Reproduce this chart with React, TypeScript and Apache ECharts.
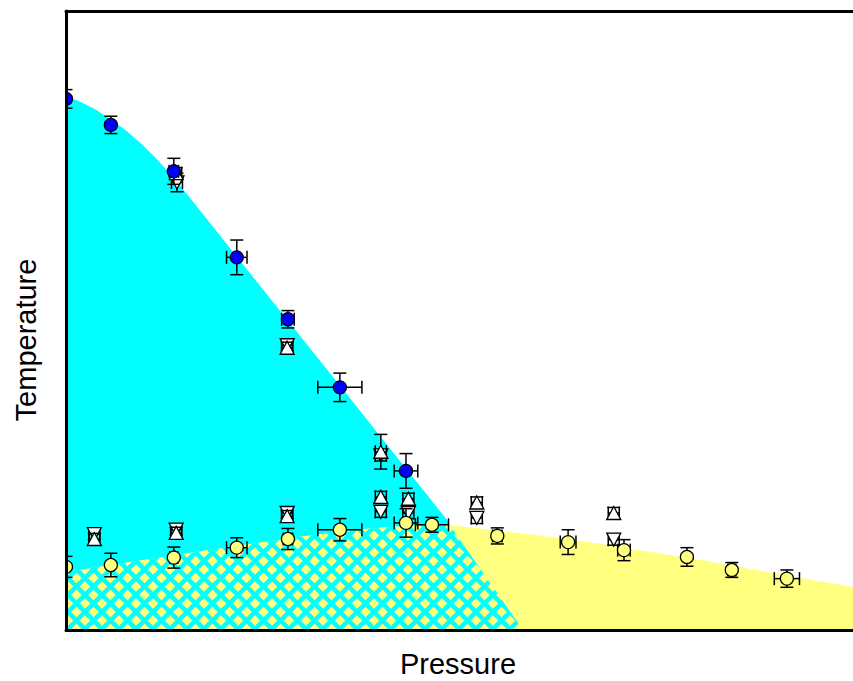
import React, { useEffect, useRef } from "react";
import * as echarts from "echarts";

// Phase-region boundaries (x: pressure 0-100, y: temperature 0-100)
const cyanX = [0, 1.91, 3.81, 5.72, 7.62, 9.53, 11.44, 13.34, 14.87, 19.19, 23.38, 27.57, 31.89, 36.09, 40.28, 44.6, 48.41, 49.17, 58.07];
const cyanY = [86.25, 85.28, 84.03, 82.49, 80.68, 78.58, 76.2, 73.53, 71.2, 64.32, 57.65, 50.97, 44.09, 37.42, 30.74, 23.87, 17.8, 16.18, 0];
const yelX = [0, 10.67, 20.84, 29.73, 38.25, 43.71, 48.79, 55.15, 61.5, 67.85, 74.21, 80.56, 86.91, 93.27, 100];
const yelY = [9.39, 11.49, 13.43, 15.05, 16.34, 16.83, 16.91, 16.02, 15.05, 13.92, 12.62, 11.33, 9.87, 8.41, 6.96];

// Blue circles
const blueX = [0, 5.7, 13.7, 21.7, 28.2, 34.8, 43.2];
const blueY = [85.8, 81.6, 74.1, 60.2, 50.2, 39.2, 25.7];
const blueEx = [0, 0, 0.6, 1.3, 0.8, 2.8, 1.5];
const blueEy = [1.5, 1.4, 2.1, 2.8, 1.4, 2.3, 2.8];

// Yellow circles
const yellowX = [0, 5.7, 13.7, 21.7, 28.2, 34.8, 43.2, 46.5, 54.8, 63.8, 70.9, 78.9, 84.6, 91.6];
const yellowY = [10.2, 10.5, 11.7, 13.3, 14.7, 16.2, 17.3, 17.0, 15.2, 14.2, 12.9, 11.8, 9.7, 8.3];
const yellowEx = [0, 0, 0.5, 1.3, 0.6, 2.8, 1.5, 2.1, 0.6, 1.0, 0.8, 0, 0.5, 1.6];
const yellowEy = [1.7, 1.9, 1.7, 1.6, 1.7, 1.8, 2.3, 1.2, 1.3, 2.0, 1.7, 1.5, 1.2, 1.4];

// Up triangles
const upX = [3.6, 14.0, 14.0, 28.1, 28.1, 40.0, 40.0, 43.5, 52.2, 69.6];
const upY = [14.7, 73.8, 15.7, 45.6, 18.4, 28.8, 21.5, 21.2, 20.6, 18.9];
const upEx = [0.7, 0.7, 0.7, 0.7, 0.7, 0.7, 0.7, 0.7, 0.7, 0.7];
const upEy = [0.9, 0.9, 0.9, 0.9, 0.9, 2.8, 0.9, 0.9, 0.9, 0.9];

// Down triangles
const downX = [3.6, 14.1, 14.0, 28.1, 28.1, 40.0, 40.0, 43.5, 52.2, 69.6];
const downY = [15.5, 72.3, 16.2, 46.0, 18.9, 28.2, 19.1, 18.9, 18.1, 14.6];
const downEx = [0.7, 0.7, 0.7, 0.7, 0.7, 0.7, 0.7, 0.7, 0.7, 0.7];
const downEy = [0.9, 1.5, 0.9, 0.9, 0.9, 0.9, 0.9, 0.9, 0.9, 0.9];

const CYAN = "#00ffff";
const YELLOW = "#ffff80";
const BLUE = "#0000ff";

function zip(xs: number[], ys: number[]) {
  return xs.map((x, i) => [x, ys[i]]);
}
function zip4(xs: number[], ys: number[], ex: number[], ey: number[]) {
  return xs.map((x, i) => [x, ys[i], ex[i], ey[i]]);
}

function makeHatch() {
  const s = 17;
  const c = document.createElement("canvas");
  c.width = s;
  c.height = s;
  const ctx = c.getContext("2d")!;
  ctx.fillStyle = YELLOW;
  ctx.fillRect(0, 0, s, s);
  ctx.strokeStyle = CYAN;
  ctx.lineWidth = 4.5;
  for (let k = -1; k <= 1; k++) {
    ctx.beginPath();
    ctx.moveTo(k * s, 0);
    ctx.lineTo(k * s + s, s);
    ctx.moveTo(k * s + s, 0);
    ctx.lineTo(k * s, s);
    ctx.stroke();
  }
  return { image: c, repeat: "repeat", imageWidth: s, imageHeight: s };
}

function makeRender(kind: string) {
  return (params: any, api: any) => {
    const x = api.value(0);
    const y = api.value(1);
    const ex = api.value(2);
    const ey = api.value(3);
    const c = api.coord([x, y]);
    const cap = 6.5;
    const ls = { stroke: "#000", lineWidth: 1.5 };
    const children: any[] = [];
    if (ey > 0) {
      const t = api.coord([x, y + ey])[1];
      const b = api.coord([x, y - ey])[1];
      children.push({ type: "line", shape: { x1: c[0], y1: t, x2: c[0], y2: b }, style: ls });
      children.push({ type: "line", shape: { x1: c[0] - cap, y1: t, x2: c[0] + cap, y2: t }, style: ls });
      children.push({ type: "line", shape: { x1: c[0] - cap, y1: b, x2: c[0] + cap, y2: b }, style: ls });
    }
    if (ex > 0) {
      const l = api.coord([x - ex, y])[0];
      const r = api.coord([x + ex, y])[0];
      children.push({ type: "line", shape: { x1: l, y1: c[1], x2: r, y2: c[1] }, style: ls });
      children.push({ type: "line", shape: { x1: l, y1: c[1] - cap, x2: l, y2: c[1] + cap }, style: ls });
      children.push({ type: "line", shape: { x1: r, y1: c[1] - cap, x2: r, y2: c[1] + cap }, style: ls });
    }
    const ms = { stroke: "#000", lineWidth: 1.3 };
    if (kind === "blue" || kind === "yellow") {
      children.push({
        type: "circle",
        shape: { cx: c[0], cy: c[1], r: 6.5 },
        style: { ...ms, fill: kind === "blue" ? BLUE : YELLOW },
      });
    } else {
      const w = 7;
      const h = 6.5;
      const pts =
        kind === "up"
          ? [[c[0], c[1] - h], [c[0] + w, c[1] + h], [c[0] - w, c[1] + h]]
          : [[c[0], c[1] + h], [c[0] + w, c[1] - h], [c[0] - w, c[1] - h]];
      children.push({ type: "polygon", shape: { points: pts }, style: { ...ms, fill: "#ffffff" } });
    }
    return { type: "group", children };
  };
}

export default function App() {
  const ref = useRef<HTMLDivElement>(null);
  useEffect(() => {
    document.body.style.margin = "0";
    if (!ref.current) return;
    const chart = echarts.init(ref.current, null, { renderer: "svg" });

    const cyanData = zip(cyanX, cyanY);
    const yelData = zip(yelX, yelY);
    const lastYelX = yelX[6];
    const hatchData = [
      ...yelData.filter((p) => p[0] <= lastYelX),
      ...cyanData.filter((p) => p[0] > lastYelX),
    ];

    const axisCommon = {
      type: "value",
      min: 0,
      max: 100,
      z: 10,
      axisTick: { show: false },
      axisLabel: { show: false },
      splitLine: { show: false },
      axisLine: { show: true, onZero: false, lineStyle: { color: "#000", width: 3 } },
    };

    const area = (name: string, data: number[][], color: any) => ({
      name,
      type: "line",
      data,
      symbol: "none",
      lineStyle: { width: 0 },
      areaStyle: { color, opacity: 1 },
      silent: true,
      z: 1,
    });

    const custom = (name: string, data: number[][], kind: string) => ({
      name,
      type: "custom",
      data,
      clip: true,
      encode: { x: 0, y: 1 },
      renderItem: makeRender(kind),
      z: 3,
    });

    chart.setOption({
      animation: false,
      backgroundColor: "#ffffff",
      grid: { left: 66, right: 0, top: 11, bottom: 51 },
      xAxis: [
        { ...axisCommon, position: "bottom" },
        { ...axisCommon, position: "top" },
      ],
      yAxis: [{ ...axisCommon, position: "left" }],
      graphic: [
        {
          type: "text",
          x: 458,
          y: 664,
          style: {
            text: "Pressure",
            font: "29px 'Liberation Sans', Arial, sans-serif",
            fill: "#000",
            align: "center",
            verticalAlign: "middle",
          },
        },
        {
          type: "text",
          x: 26,
          y: 340,
          rotation: Math.PI / 2,
          style: {
            text: "Temperature",
            font: "29px 'Liberation Sans', Arial, sans-serif",
            fill: "#000",
            align: "center",
            verticalAlign: "middle",
          },
        },
      ],
      series: [
        area("cyanRegion", cyanData, CYAN),
        area("yellowRegion", yelData, YELLOW),
        area("hatchRegion", hatchData, makeHatch()),
        custom("down", zip4(downX, downY, downEx, downEy), "down"),
        custom("up", zip4(upX, upY, upEx, upEy), "up"),
        custom("yellow", zip4(yellowX, yellowY, yellowEx, yellowEy), "yellow"),
        custom("blue", zip4(blueX, blueY, blueEx, blueEy), "blue"),
      ],
    });
    return () => chart.dispose();
  }, []);
  return <div ref={ref} style={{ width: 853, height: 681 }} />;
}
